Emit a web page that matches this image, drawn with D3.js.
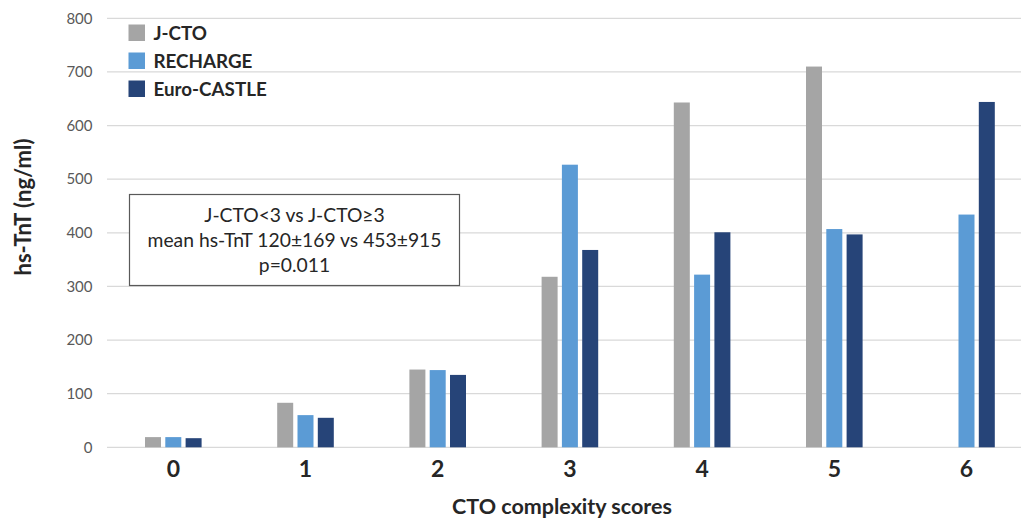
<!DOCTYPE html>
<html><head><meta charset="utf-8">
<script src="https://cdn.jsdelivr.net/npm/d3@7/dist/d3.min.js"></script>
<style>body{margin:0;background:#fff}svg{display:block;font-family:Lato,"Open Sans",sans-serif}</style>
</head><body><svg id="c" width="1021" height="520"></svg>
<script>
const categories = ["0","1","2","3","4","5","6"];
const seriesNames = ["J-CTO","RECHARGE","Euro-CASTLE"];
const jcto = [19, 83, 145, 318, 643, 710, 0];
const recharge = [19, 60, 144, 527, 322, 407, 434];
const euroCastle = [17, 55, 135, 368, 401, 397, 644];
const yTicks = [0,100,200,300,400,500,600,700,800];
const colors = ["#A5A5A5","#5B9BD5","#264478"];
const annotation = ["J-CTO<3 vs J-CTO\u22653","mean hs-TnT 120\u00b1169 vs 453\u00b1915","p=0.011"];

const svg = d3.select("#c");
const x = d3.scaleBand().domain(categories).range([107.2, 1032.6]).paddingInner(0).paddingOuter(0);
const y = d3.scaleLinear().domain([0,800]).range([447.3, 18.3]);
const series = [jcto, recharge, euroCastle];
const barW = 16, step = 20.3;

svg.append("g").selectAll("line").data(yTicks).join("line")
  .attr("x1", 107).attr("x2", 1021)
  .attr("y1", d=>y(d)).attr("y2", d=>y(d))
  .attr("stroke", "#D9D9D9").attr("stroke-width", 1.3);

svg.append("g").selectAll("text").data(yTicks).join("text")
  .attr("x", 92.5).attr("y", d=>y(d)).attr("dy","0.35em")
  .attr("text-anchor","end").attr("fill","#595959")
  .attr("font-size", 15).text(d=>d);

series.forEach((vals, si) => {
  svg.append("g").selectAll("rect").data(categories).join("rect")
    .attr("x", (c) => x(c) + x.bandwidth()/2 + (si-1)*step - barW/2)
    .attr("width", barW)
    .attr("y", (c,i) => y(vals[i]))
    .attr("height", (c,i) => y(0) - y(vals[i]))
    .attr("fill", colors[si]);
});

svg.append("g").selectAll("text").data(categories).join("text")
  .attr("x", c => x(c) + x.bandwidth()/2).attr("y", 476.5)
  .attr("text-anchor","middle").attr("font-weight","bold")
  .attr("font-size", 23).attr("fill","#262626").text(c=>c);

svg.append("text").attr("x", 562).attr("y", 514).attr("text-anchor","middle")
  .attr("font-weight","bold").attr("font-size", 21.5).attr("fill","#262626")
  .text("CTO complexity scores");
svg.append("text").attr("transform","translate(31,207) rotate(-90)").attr("text-anchor","middle")
  .attr("font-weight","bold").attr("font-size", 22).attr("fill","#262626")
  .text("hs-TnT (ng/ml)");

const lg = svg.append("g");
seriesNames.forEach((n,i) => {
  lg.append("rect").attr("x",128.5).attr("y",24.5+i*28).attr("width",16.5).attr("height",16.5).attr("fill",colors[i]);
  lg.append("text").attr("x",153.5).attr("y",33+i*28).attr("dy","0.35em")
    .attr("font-weight","bold").attr("font-size",18.8).attr("fill","#262626").text(n);
});

svg.append("rect").attr("x",129.5).attr("y",194.5).attr("width",330).attr("height",91)
  .attr("fill","#fff").attr("stroke","#595959").attr("stroke-width",1.2);
svg.append("g").selectAll("text").data(annotation).join("text")
  .attr("x",294.5).attr("y",(d,i)=>215+i*25).attr("dy","0.35em")
  .attr("text-anchor","middle").attr("font-size",19.3).attr("fill","#262626").text(d=>d);
</script></body></html>
